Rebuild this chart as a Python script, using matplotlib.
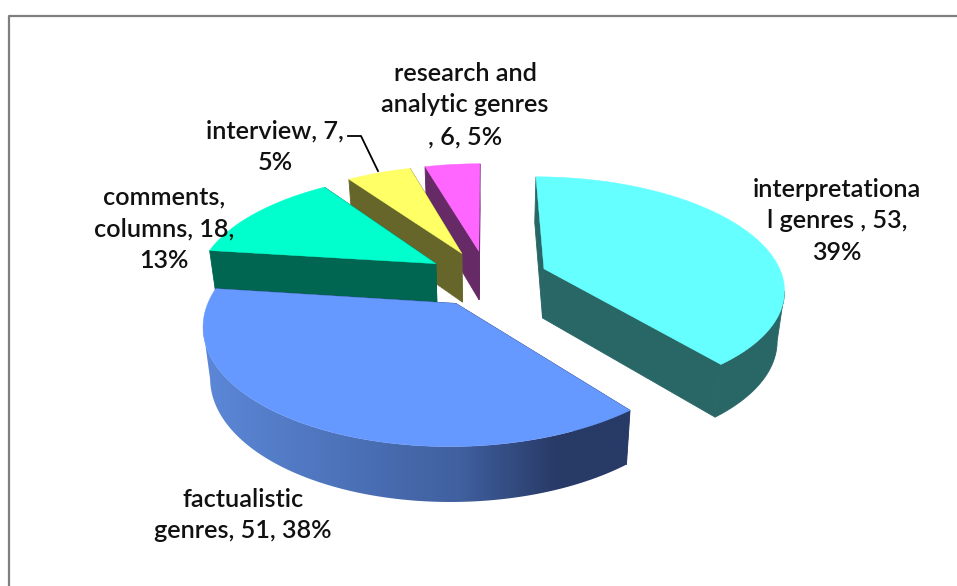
import matplotlib
matplotlib.use('Agg')
import matplotlib.pyplot as plt
from matplotlib.patches import Polygon
from matplotlib.colors import LinearSegmentedColormap
import numpy as np

# values, clockwise from 12 o'clock
names = ['interpretational genres', 'factualistic genres', 'comments, columns',
         'interview', 'research and analytic genres']
values = [53, 51, 18, 7, 6]
labels = ['interpretationa\nl genres , 53,\n39%',
          'factualistic\ngenres, 51, 38%',
          'comments,\ncolumns, 18,\n13%',
          'interview, 7,\n5%',
          'research and\nanalytic genres\n, 6, 5%']
label_pos = [(837, 221), (243, 515), (164, 229), (275, 147), (465, 105)]
top_colors = ['#66FFFF', '#6699FF', '#00FFCC', '#FFFF66', '#FF66FF']
side_colors = ['#296666', '#283A66', '#006652', '#66662A', '#662A66']
draw_order = [4, 3, 2, 0, 1]  # far slices first

# pie geometry, in pixels
CX, CY = 487, 278
RX, RY = 239, 110
PERSP = 0.165
EXPLODE = 0.256
DEPTH = 49.5
BOTTOM_X = 0.975


def project(X, Y, low=False):
    s = 1 / (1 + PERSP * Y)
    sx = RX * X * s
    sy = CY - RY * Y * s
    if low:
        return CX + sx * BOTTOM_X, sy + DEPTH * np.sqrt(s)
    return CX + sx, sy


fig = plt.figure(figsize=(9.57, 5.86), dpi=100)
ax = fig.add_axes([0, 0, 1, 1])
ax.axis('off')

# chart frame
ax.plot([9, 9, 957], [586, 16, 16], color='#7F7F7F', lw=1.6)

# rim of the blue slice darkens from left to right
fact_cmap = LinearSegmentedColormap.from_list(
    'fact', [(0, '#5C88D8'), (0.6, '#40609F'), (0.83, '#283A66'), (1, '#283A66')])

edges = np.cumsum([0] + values) / sum(values) * 2 * np.pi
for i in draw_order:
    a0, a1 = edges[i], edges[i + 1]
    mid = (a0 + a1) / 2
    ex, ey = EXPLODE * np.sin(mid), EXPLODE * np.cos(mid)
    t = np.linspace(a0, a1, 240)
    X = ex + np.sin(t)
    Y = ey + np.cos(t)

    # cut faces
    for a in (a0, a1):
        p = [project(ex, ey), project(ex + np.sin(a), ey + np.cos(a)),
             project(ex + np.sin(a), ey + np.cos(a), True), project(ex, ey, True)]
        ax.add_patch(Polygon(p, fc=side_colors[i], ec=side_colors[i], lw=0.6, zorder=2))

    # rim, only the part that faces the viewer
    tx, ty = project(X, Y)
    bx, by = project(X, Y, True)
    front = np.gradient(tx) < 0
    if front.sum() > 1:
        fx, fy = tx[front], ty[front]
        gx, gy = bx[front], by[front]
        rim = list(zip(fx, fy)) + list(zip(gx[::-1], gy[::-1]))
        if i == 1:
            poly = Polygon(rim, fc='none', ec='none', zorder=2)
            ax.add_patch(poly)
            grad = np.linspace(0, 1, 256).reshape(1, -1)
            im = ax.imshow(grad, cmap=fact_cmap, aspect='auto', zorder=2,
                           extent=[fx.min(), fx.max(), gy.max(), fy.min()])
            im.set_clip_path(poly)
        else:
            ax.add_patch(Polygon(rim, fc=side_colors[i], ec=side_colors[i], lw=0.6, zorder=2))

    # top
    top = [project(ex, ey)] + list(zip(tx, ty))
    ax.add_patch(Polygon(top, fc=top_colors[i], ec=top_colors[i], lw=0.3, zorder=2))

ax.set_xlim(0, 957)
ax.set_ylim(586, 0)

# leader line of the interview label
ax.plot([348, 361, 378], [136, 136, 171], color='black', lw=1.3, zorder=3)

for text, (x, y) in zip(labels, label_pos):
    ax.text(x, y, text, ha='center', va='center', family='Lato', fontsize=18.2,
            weight=600, linespacing=1.45, color='#111111', zorder=4)

fig.savefig('out.png', dpi=100)
